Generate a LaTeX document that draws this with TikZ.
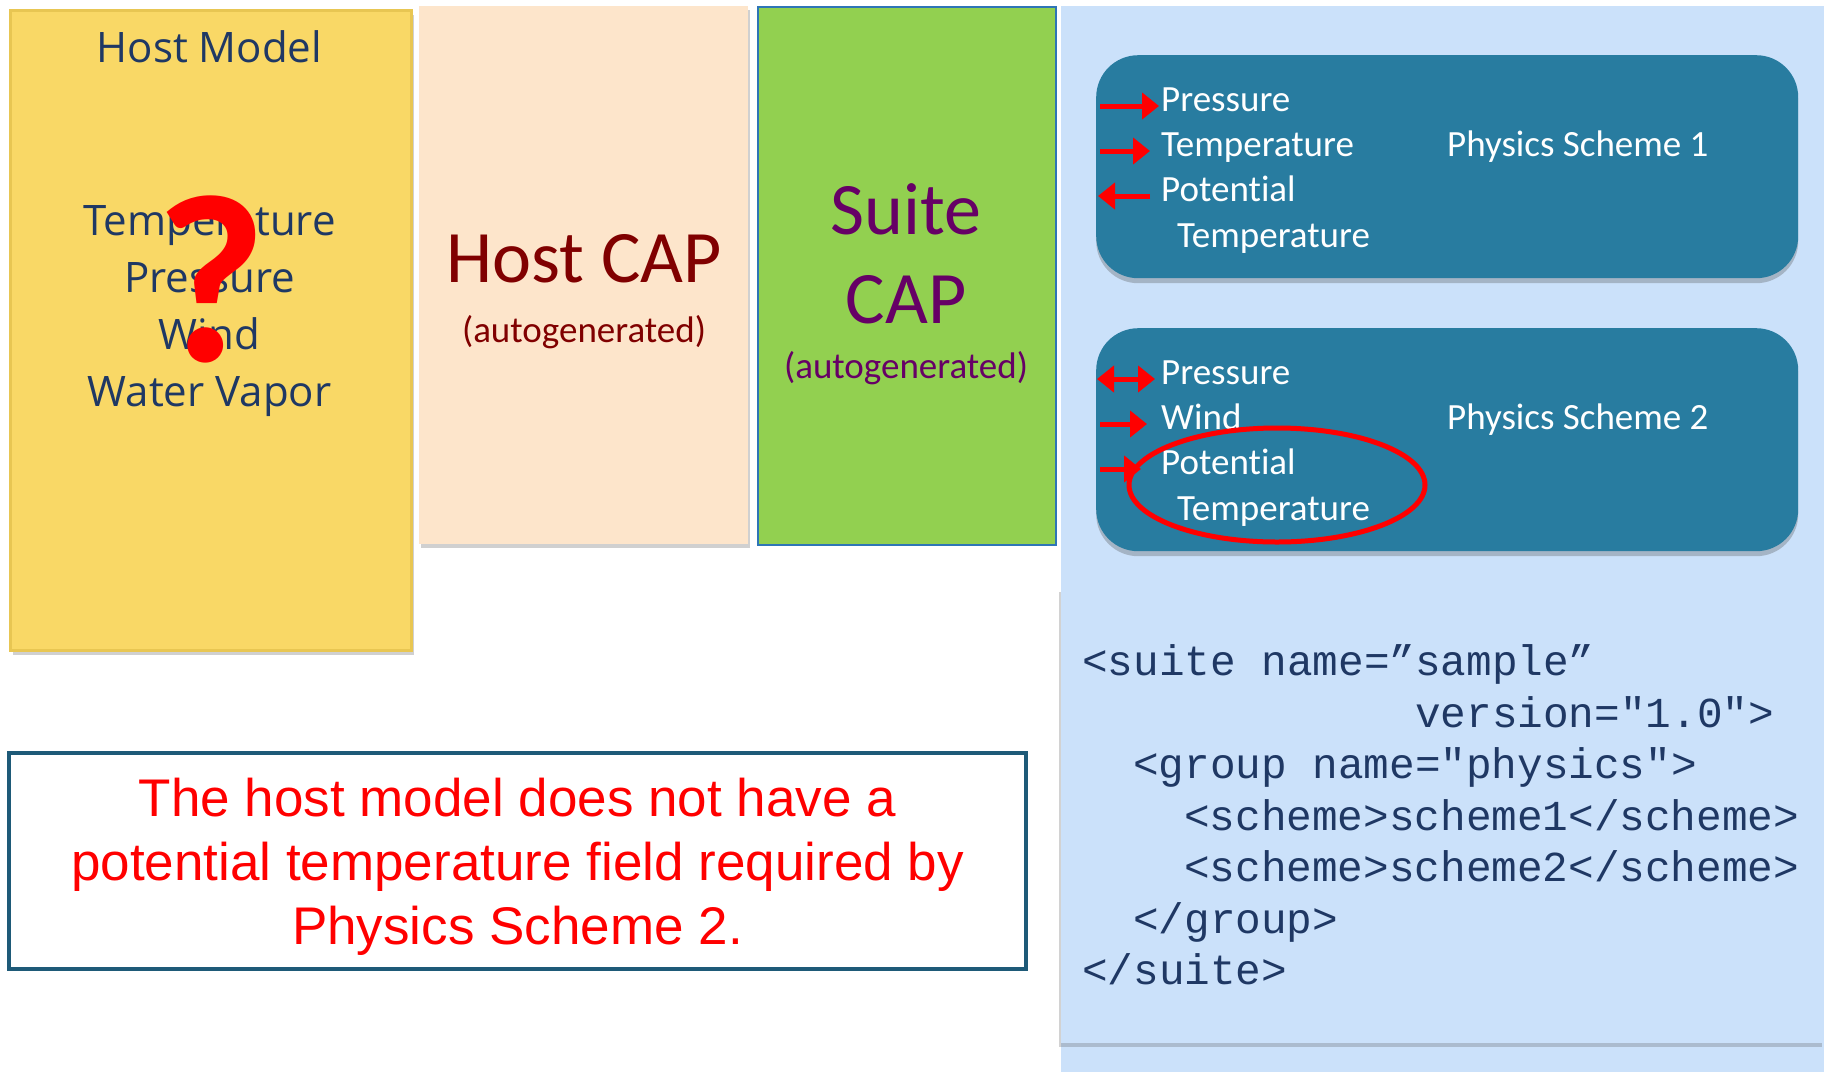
\documentclass[tikz,border=0pt]{standalone}
\usepackage{fontspec}
\setmainfont{Carlito}[Ligatures={NoCommon,NoContextual}, RawFeature={-liga;-clig;-calt}]
\newfontfamily\modelfont{Open Sans}
\newfontfamily\notefont{Liberation Sans}
\setmonofont{Liberation Mono}
\usepackage{xcolor}
\usetikzlibrary{shapes.geometric, arrows.meta, positioning, shadows}

\definecolor{modelyellow}{RGB}{249,216,102}
\definecolor{modeledge}{RGB}{232,198,82}
\definecolor{cappeach}{RGB}{253,229,203}
\definecolor{capgreen}{RGB}{146,208,80}
\definecolor{capedge}{RGB}{46,117,182}
\definecolor{panelblue}{RGB}{203,225,250}
\definecolor{schemeblue}{RGB}{40,124,160}
\definecolor{navy}{RGB}{31,56,100}
\definecolor{capred}{RGB}{128,0,0}
\definecolor{cappurple}{RGB}{102,0,102}
\definecolor{noteedge}{RGB}{30,90,120}

\begin{document}
\begin{tikzpicture}[
    x=1pt, y=-1pt,
    every node/.style={inner sep=0pt},
    column/.style={anchor=north west, inner sep=0pt},
    softshadow/.style={drop shadow={shadow xshift=2pt, shadow yshift=-4pt, opacity=0.3, fill=black!60}},
    scheme/.style={
        fill=schemeblue,
        rounded corners=42pt,
        anchor=north west,
        minimum width=702pt,
        minimum height=223pt,
        drop shadow={shadow xshift=0pt, shadow yshift=-5pt, opacity=0.3, fill=black!70}
    },
    field/.style={anchor=west, text=white, font=\fontsize{37}{44}\selectfont,
        text height=18pt, text depth=8pt},
    hostfield/.style={anchor=base, text=navy, font=\modelfont\fontsize{42}{50}\selectfont},
    capbig/.style={anchor=base, font=\fontsize{74}{90}\selectfont},
    capsmall/.style={anchor=base, font=\fontsize{37}{44}\selectfont},
    code/.style={anchor=base west, text=navy, font=\ttfamily\fontsize{42.7}{50}\selectfont},
    flow/.style={red, line width=5pt, -{Triangle[length=17pt, width=26pt]},
        shorten <=4pt, shorten >=2pt},
    missing/.style={ellipse, draw=red, line width=5pt, minimum width=296pt, minimum height=114pt}
]

\fill[white] (0,0) rectangle (1824,1072);
\useasboundingbox (0,0) rectangle (1824,1072);

\node[column, fill=modelyellow, draw=modeledge, line width=3pt,
    minimum width=401pt, minimum height=640pt, softshadow] (model) at (9,9) {};
\node[column, fill=cappeach, minimum width=329pt, minimum height=538pt, softshadow] (hostcap) at (419,6) {};
\node[column, fill=capgreen, draw=capedge, line width=2pt,
    minimum width=298pt, minimum height=538pt] (suitecap) at (757,6) {};
\node[column, fill=panelblue, minimum width=763pt, minimum height=1066pt] (panel) at (1061,6) {};
\node[column, fill=panelblue, minimum width=763pt, minimum height=455pt,
    drop shadow={shadow xshift=-2pt, shadow yshift=-4pt, opacity=0.25, fill=black!70}] (xml) at (1061,588) {};

\node[hostfield] (modeltitle) at (209.5,62) {Host Model};
\node[hostfield] (mtemp) at (209.5,235) {Temperature};
\node[hostfield] (mpres) at (209.5,292) {Pressure};
\node[hostfield] (mwind) at (209.5,349) {Wind};
\node[hostfield] (mvapor) at (209.5,406) {Water Vapor};
\node[text=red, font=\bfseries\fontsize{240}{240}\selectfont] (unknown) at (211,279) {?};

\node[capbig, text=capred] (hostcapname) at (584,282) {Host CAP};
\node[capsmall, text=capred] (hostcapnote) at (584,342) {(autogenerated)};
\node[capbig, text=cappurple] (suitename) at (906,234) {Suite};
\node[capbig, text=cappurple] (suitecapname) at (906,323) {CAP};
\node[capsmall, text=cappurple] (suitenote) at (906,378) {(autogenerated)};

\node[scheme] (s1) at (1096,55) {};
\node[scheme] (s2) at (1096,328) {};

\node[field] (s1pres) at (1161,106) {Pressure};
\node[field] (s1temp) at (1161,151) {Temperature};
\node[field] (s1pot) at (1161,196) {Potential};
\node[field] (s1ptemp) at (1177,242) {Temperature};
\node[field] (s1name) at (1447,151) {Physics Scheme 1};

\node[field] (s2pres) at (1161,379) {Pressure};
\node[field] (s2wind) at (1161,424) {Wind};
\node[field] (s2pot) at (1161,469) {Potential};
\node[field] (s2ptemp) at (1177,515) {Temperature};
\node[field] (s2name) at (1447,424) {Physics Scheme 2};

\draw[flow] (s1.west |- s1pres.west) -- (s1pres.west);
\draw[flow, shorten >=11pt] (s1.west |- s1temp.west) -- (s1temp.west);
\draw[flow, shorten <=11pt] (s1pot.west) -- (s1.west |- s1pot.west);
\draw[flow, {Triangle[length=17pt, width=26pt]}-{Triangle[length=17pt, width=26pt]}, shorten <=1pt, shorten >=6pt]
    (s2.west |- s2pres.west) -- (s2pres.west);
\draw[flow, shorten >=14pt] (s2.west |- s2wind.west) -- (s2wind.west);
\draw[flow, shorten >=20pt] (s2.west |- s2pot.west) -- (s2pot.west);

\node[missing] (gap) at (1277,485) {};

\node[code] (x1) at (1082,675) {<suite name=”sample”};
\node[code] (x2) at (1415,727) {version="1.0">};
\node[code] (x3) at (1133,778) {<group name="physics">};
\node[code] (x4) at (1184,830) {<scheme>scheme1</scheme>};
\node[code] (x5) at (1184,881) {<scheme>scheme2</scheme>};
\node[code] (x6) at (1133,933) {</group>};
\node[code] (x7) at (1082,984) {</suite>};

\node[draw=noteedge, line width=4.5pt, minimum width=1017pt, minimum height=216pt] (note) at (517.5,861) {};
\node[align=center, text=red, font=\notefont\fontsize{53}{64}\selectfont] (notetext) at (517.5,867)
    {The host model does not have a\\potential temperature field required by\\Physics Scheme 2.};

\end{tikzpicture}
\end{document}
